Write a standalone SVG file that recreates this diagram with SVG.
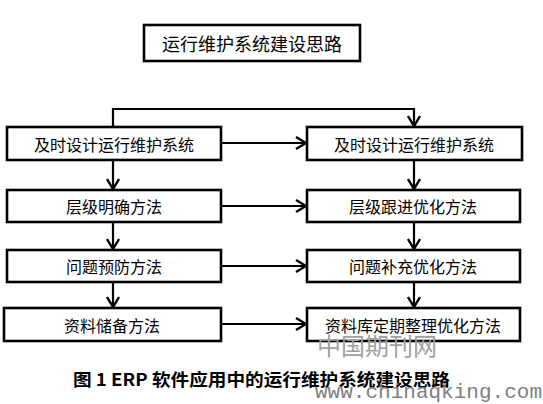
<svg xmlns="http://www.w3.org/2000/svg" width="543" height="404" viewBox="0 0 543 404">
<style>
.box{fill:#fff;stroke:#000;stroke-width:2.6}
.t{font-family:"Noto Sans CJK SC","Noto Sans CJK JP",sans-serif;font-size:16px;fill:#000;text-anchor:middle;dominant-baseline:central}
.ln{fill:none;stroke:#000;stroke-width:2.2}
.wm{font-family:"Noto Sans CJK SC",sans-serif;fill:#a0a0a0}
</style>
<defs>
<marker id="ah" viewBox="0 0 12 14" refX="11" refY="7" markerWidth="12" markerHeight="14" markerUnits="userSpaceOnUse" orient="auto">
<path d="M1,1 L11,7 L1,13" fill="none" stroke="#000" stroke-width="2.4"/>
</marker>
</defs>
<rect width="543" height="404" fill="#fff"/>
<g id="connectors">
<path class="ln" d="M113,126 V109 H414 V126" marker-start="url(#ah)" marker-end="url(#ah)"/>
<path class="ln" d="M221,143 H306" marker-end="url(#ah)"/>
<path class="ln" d="M221,206 H306" marker-end="url(#ah)"/>
<path class="ln" d="M221,266 H306" marker-end="url(#ah)"/>
<path class="ln" d="M221,324 H306" marker-end="url(#ah)"/>
<path class="ln" d="M113,160 V189" marker-end="url(#ah)"/>
<path class="ln" d="M113,222 V249" marker-end="url(#ah)"/>
<path class="ln" d="M113,282 V307" marker-end="url(#ah)"/>
<path class="ln" d="M414,160 V189" marker-end="url(#ah)"/>
<path class="ln" d="M414,222 V249" marker-end="url(#ah)"/>
<path class="ln" d="M414,282 V307" marker-end="url(#ah)"/>
</g>
<g id="title">
<rect class="box" x="144" y="25" width="216" height="36"/>
<text class="t" x="252" y="43" style="font-size:18px">运行维护系统建设思路</text>
</g>
<g id="l1"><rect class="box" x="7" y="127" width="214" height="33"/><text class="t" x="114" y="143.5">及时设计运行维护系统</text></g>
<g id="r1"><rect class="box" x="307" y="127" width="215" height="33"/><text class="t" x="414" y="143.5">及时设计运行维护系统</text></g>
<g id="l2"><rect class="box" x="7" y="190" width="214" height="32"/><text class="t" x="114" y="206">层级明确方法</text></g>
<g id="r2"><rect class="box" x="307" y="190" width="213" height="32"/><text class="t" x="413" y="206">层级跟进优化方法</text></g>
<g id="l3"><rect class="box" x="7" y="250" width="214" height="32"/><text class="t" x="114" y="266">问题预防方法</text></g>
<g id="r3"><rect class="box" x="307" y="250" width="213" height="32"/><text class="t" x="413" y="266">问题补充优化方法</text></g>
<g id="l4"><rect class="box" x="4" y="308" width="217" height="33"/><text class="t" x="112" y="324.5">资料储备方法</text></g>
<g id="r4"><rect class="box" x="307" y="308" width="213" height="33"/><text class="t" x="413" y="324.5">资料库定期整理优化方法</text></g>
<text x="317" y="355" class="wm" style="font-size:24px" textLength="120">中国期刊网</text>
<text x="73" y="386" font-family="'Noto Sans CJK SC',sans-serif" font-weight="bold" font-size="17.5" fill="#000" textLength="377" lengthAdjust="spacingAndGlyphs">图 1 ERP 软件应用中的运行维护系统建设思路</text>
<text x="315" y="398" font-family="'Liberation Mono',monospace" font-size="21" fill="#808080" textLength="227">www.chinaqking.com</text>
</svg>
